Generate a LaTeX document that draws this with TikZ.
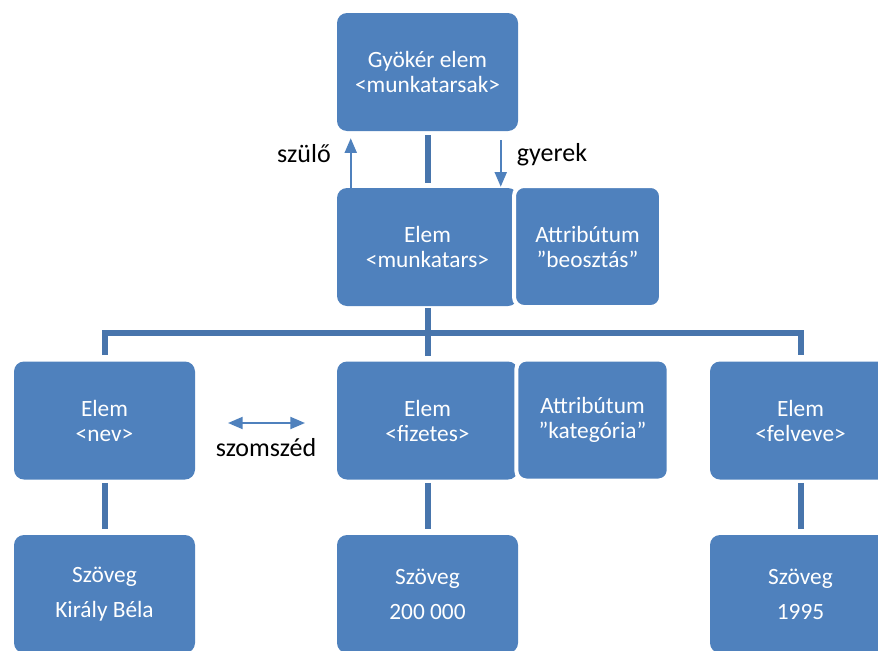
\documentclass[tikz,border=0pt]{standalone}
\usepackage{fontspec}
\setmainfont{Carlito}
\usetikzlibrary{arrows.meta}
\definecolor{boxblue}{RGB}{79,129,189}
\definecolor{barblue}{RGB}{72,117,172}
\tikzset{
  elembox/.style={rectangle, rounded corners=7.5pt, fill=boxblue, text=white, align=center, inner sep=0pt, minimum width=135.75pt, minimum height=88.5pt, font=\fontsize{17.5}{18.75}\selectfont},
  attrbox/.style={elembox, draw=white, line width=3pt, minimum height=90.75pt},
  textbox/.style={elembox, font=\fontsize{17.5}{26.25}\selectfont},
  bar/.style={draw=barblue, line width=4.5pt},
  arr/.style={draw=boxblue, fill=boxblue, line width=1.5pt, -{Triangle[length=11pt,width=9pt]}},
  biarr/.style={arr, {Triangle[length=11pt,width=9pt]}-{Triangle[length=11pt,width=9pt]}},
  lbl/.style={font=\fontsize{19.5}{23}\selectfont, anchor=base},
}
\begin{document}
\begin{tikzpicture}[x=0.75pt,y=0.75pt,yscale=-1]
\useasboundingbox (0,0) rectangle (878,650);
\clip (0,0) rectangle (878,650);

%Shape: Rounded Rect [root]
\node[elembox] (root) at (427.5,72) {Gyökér elem\\<munkatarsak>};
%Shape: Rounded Rect [munkatars]
\node[elembox] (munkatars) at (427.5,247) {Elem\\<munkatars>};
\node[attrbox, minimum width=110.25pt] (beosztas) at (587.5,246.5) {Attribútum\\”beosztás”};

%Shape: Rounded Rect [second row]
\node[elembox] (nev) at (104.5,420.5) {Elem\\<nev>};
\node[elembox] (fizetes) at (427.5,420.5) {Elem\\<fizetes>};
\node[attrbox, minimum width=114.3pt] (kategoria) at (592.5,420) {Attribútum\\”kategória”};
\node[elembox] (felveve) at (800.5,420.5) {Elem\\<felveve>};

%Shape: Rounded Rect [text row]
\node[textbox] (nevtext) at (104.5,594) {Szöveg\\Király Béla};
\node[textbox] (fizetestext) at (427.5,594) {Szöveg\\200 000};
\node[textbox] (felvevetext) at (800.5,594) {Szöveg\\1995};

%Straight Lines
\draw[bar, shorten <=3pt, shorten >=3.75pt] (root) -- (munkatars);
\draw[bar, shorten <=1.5pt, shorten >=3.75pt] (munkatars) -- (fizetes);
\coordinate (bus) at (427.5,333);
\draw[bar, shorten <=4.5pt, shorten >=4.5pt] (nev) |- (bus) -| (felveve);
\draw[bar, shorten <=2.25pt, shorten >=4.5pt] (nev) -- (nevtext);
\draw[bar, shorten <=2.25pt, shorten >=4.5pt] (fizetes) -- (fizetestext);
\draw[bar, shorten <=2.25pt, shorten >=4.5pt] (felveve) -- (felvevetext);

%Arrows
\draw[arr, shorten >=5.25pt] ([xshift=10.5pt]munkatars.north west) -- ([xshift=10.5pt]root.south west);
\draw[arr, shorten <=6.75pt, shorten >=0.75pt] ([xshift=123pt]root.south west) -- ([xshift=123pt]munkatars.north west);
\coordinate (nevside) at (228,423);
\coordinate (fizside) at (305,423);
\draw[biarr] (nevside) -- (fizside);

% Text Node
\node[lbl] (szulo) at (304,162) {szülő};
% Text Node
\node[lbl] (gyerek) at (552,161) {gyerek};
% Text Node
\node[lbl] (szomszed) at (266,456) {szomszéd};

\end{tikzpicture}
\end{document}
